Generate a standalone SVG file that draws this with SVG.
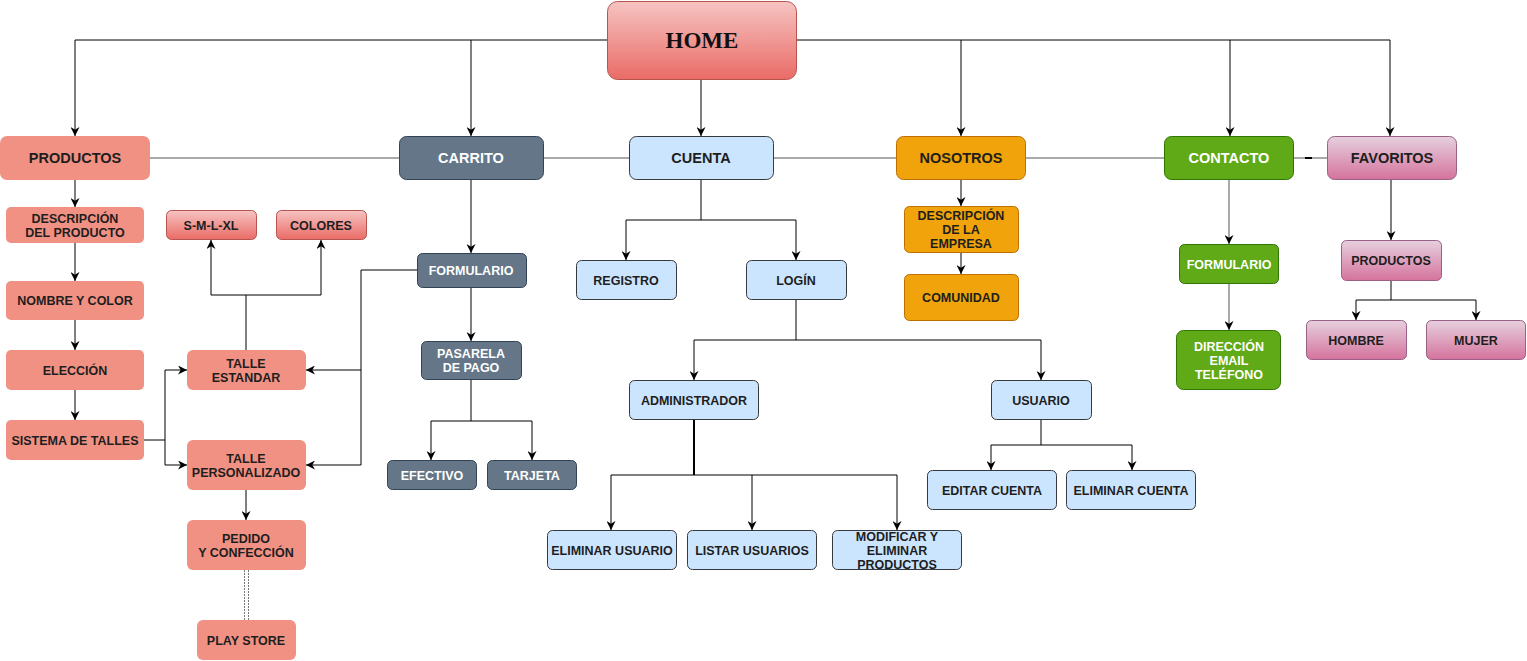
<svg xmlns="http://www.w3.org/2000/svg" width="1527" height="661" viewBox="0 0 1527 661">
<defs>
<style>
.t{font-family:"Liberation Sans",Arial,sans-serif;font-weight:bold;font-size:12.5px;text-anchor:middle;fill:#1e1e1e}
.b{font-size:14.5px}
.w{fill:#fff}
.c{stroke:#000;stroke-width:1;fill:none}
.g{stroke:#555;stroke-width:1;fill:none}
.sal{fill:#f19183;stroke:none}
.gry{fill:#647687;stroke:#314354}
.blu{fill:#cce5ff;stroke:#36393d}
.org{fill:#f0a30a;stroke:#bd7000}
.grn{fill:#60a917;stroke:#2d7600}
.pnk{fill:url(#gp);stroke:#996185}
.red{fill:url(#gr);stroke:#b85450}
</style>
<linearGradient id="gr" x1="0" y1="0" x2="0" y2="1"><stop offset="0" stop-color="#f6c4c2"/><stop offset="1" stop-color="#ea6b66"/></linearGradient>
<linearGradient id="gp" x1="0" y1="0" x2="0" y2="1"><stop offset="0" stop-color="#e6d0de"/><stop offset="1" stop-color="#d5739d"/></linearGradient>
<marker id="a" viewBox="0 0 10 10" refX="10" refY="5" markerWidth="9" markerHeight="9" markerUnits="userSpaceOnUse" orient="auto"><path d="M0,0 L10,5 L0,10 L3,5 z" fill="#000"/></marker>
</defs>
<rect width="1527" height="661" fill="#fff"/>
<g id="connectors">
<path class="c" d="M607,40 H75 V136" marker-end="url(#a)"/>
<path class="c" d="M471,40 V136" marker-end="url(#a)"/>
<path class="c" d="M797,40 H1390 V136" marker-end="url(#a)"/>
<path class="c" d="M961,40 V136" marker-end="url(#a)"/>
<path class="c" d="M1230,40 V136" marker-end="url(#a)"/>
<path class="c" d="M701,80 V136" marker-end="url(#a)"/>
<path class="g" d="M150,158 H399 M544,158 H629 M774,158 H896 M1026,158 H1164 M1294,158 H1327"/>
<path stroke="#000" stroke-width="2" d="M1305,158 H1312"/>
<path class="c" d="M75,180 V207" marker-end="url(#a)"/>
<path class="c" d="M75,243 V281" marker-end="url(#a)"/>
<path class="c" d="M75,320 V350" marker-end="url(#a)"/>
<path class="c" d="M75,390 V420" marker-end="url(#a)"/>
<path class="c" d="M144,440 H165 V370 H187" marker-end="url(#a)"/>
<path class="c" d="M165,440 V465 H187" marker-end="url(#a)"/>
<path class="c" d="M246,350 V295 H211 V240" marker-end="url(#a)"/>
<path class="c" d="M246,295 H321 V240" marker-end="url(#a)"/>
<path class="c" d="M417,270 H361 V370 H306" marker-end="url(#a)"/>
<path class="c" d="M361,370 V465 H306" marker-end="url(#a)"/>
<path class="c" d="M246,490 V520" marker-end="url(#a)"/>
<path stroke="#777" stroke-width="1" stroke-dasharray="2,1" fill="none" d="M244.5,570 V620 M248.5,570 V620"/>
<path class="c" d="M471,180 V253" marker-end="url(#a)"/>
<path class="c" d="M471,288 V341" marker-end="url(#a)"/>
<path class="c" d="M471,380 V421 H431 V460" marker-end="url(#a)"/>
<path class="c" d="M471,421 H532 V460" marker-end="url(#a)"/>
<path class="c" d="M701,180 V220 H626 V260" marker-end="url(#a)"/>
<path class="c" d="M701,220 H796 V260" marker-end="url(#a)"/>
<path class="c" d="M796,300 V340 H694 V380" marker-end="url(#a)"/>
<path class="c" d="M796,340 H1041 V380" marker-end="url(#a)"/>
<path stroke="#000" stroke-width="2" fill="none" d="M694,420 V475"/>
<path class="c" d="M694,475 H611 V530" marker-end="url(#a)"/>
<path class="c" d="M694,475 H752 V530" marker-end="url(#a)"/>
<path class="c" d="M752,475 H897 V530" marker-end="url(#a)"/>
<path class="c" d="M1041,420 V445 H991 V470" marker-end="url(#a)"/>
<path class="c" d="M1041,445 H1132 V470" marker-end="url(#a)"/>
<path class="c" d="M961,180 V206" marker-end="url(#a)"/>
<path class="c" d="M961,253 V274" marker-end="url(#a)"/>
<path class="g" d="M1229,180 V244" marker-end="url(#a)"/>
<path class="g" d="M1229,284 V330" marker-end="url(#a)"/>
<path class="c" d="M1391,180 V240" marker-end="url(#a)"/>
<path class="c" d="M1391,281 V300 H1356 V320" marker-end="url(#a)"/>
<path class="c" d="M1391,300 H1476 V320" marker-end="url(#a)"/>
</g>
<g id="home"><rect class="red" x="607.5" y="1.5" width="189" height="78" rx="10"/><text x="702" y="48" style="font-family:'Liberation Serif','Times New Roman',serif;font-weight:bold;font-size:23px;text-anchor:middle;fill:#111">HOME</text></g>
<g id="productos"><rect class="sal" x="0" y="136" width="150" height="44" rx="7"/><text class="t b" x="75" y="163">PRODUCTOS</text></g>
<g id="carrito"><rect class="gry" x="399.5" y="136.5" width="144" height="43" rx="7"/><text class="t b w" x="471" y="163">CARRITO</text></g>
<g id="cuenta"><rect class="blu" x="629.5" y="136.5" width="144" height="43" rx="7"/><text class="t b" x="701" y="163">CUENTA</text></g>
<g id="nosotros"><rect class="org" x="896.5" y="136.5" width="129" height="43" rx="7"/><text class="t b" x="961" y="163">NOSOTROS</text></g>
<g id="contacto"><rect class="grn" x="1164.5" y="136.5" width="129" height="43" rx="7"/><text class="t b w" x="1229" y="163">CONTACTO</text></g>
<g id="favoritos"><rect class="pnk" x="1327.5" y="136.5" width="129" height="43" rx="7"/><text class="t b" x="1392" y="163">FAVORITOS</text></g>
<g id="descripcion-producto"><rect class="sal" x="6" y="207" width="138" height="36" rx="5"/><text class="t" x="75" y="222.5">DESCRIPCIÓN</text><text class="t" x="75" y="236.5">DEL PRODUCTO</text></g>
<g id="nombre-color"><rect class="sal" x="6" y="281" width="138" height="39" rx="5"/><text class="t" x="75" y="304.5">NOMBRE Y COLOR</text></g>
<g id="eleccion"><rect class="sal" x="6" y="350" width="138" height="40" rx="5"/><text class="t" x="75" y="374.5">ELECCIÓN</text></g>
<g id="sistema-talles"><rect class="sal" x="6" y="420" width="138" height="40" rx="5"/><text class="t" x="75" y="444.5">SISTEMA DE TALLES</text></g>
<g id="sml"><rect class="red" x="166.5" y="210.5" width="90" height="29" rx="5"/><text class="t" x="211" y="229.5">S-M-L-XL</text></g>
<g id="colores"><rect class="red" x="276.5" y="210.5" width="90" height="29" rx="5"/><text class="t" x="321" y="229.5">COLORES</text></g>
<g id="talle-estandar"><rect class="sal" x="187" y="350" width="119" height="40" rx="6"/><text class="t" x="246" y="368">TALLE</text><text class="t" x="246" y="382">ESTANDAR</text></g>
<g id="talle-personalizado"><rect class="sal" x="187" y="440" width="119" height="50" rx="6"/><text class="t" x="246" y="463">TALLE</text><text class="t" x="246" y="477">PERSONALIZADO</text></g>
<g id="pedido"><rect class="sal" x="187" y="520" width="119" height="50" rx="6"/><text class="t" x="246" y="543">PEDIDO</text><text class="t" x="246" y="557">Y CONFECCIÓN</text></g>
<g id="play-store"><rect class="sal" x="197" y="620" width="99" height="40" rx="6"/><text class="t" x="246" y="644.5">PLAY STORE</text></g>
<g id="formulario-carrito"><rect class="gry" x="417.5" y="253.5" width="109" height="34" rx="5"/><text class="t w" x="471" y="274.5">FORMULARIO</text></g>
<g id="pasarela"><rect class="gry" x="421.5" y="341.5" width="100" height="38" rx="5"/><text class="t w" x="471" y="357.5">PASARELA</text><text class="t w" x="471" y="371.5">DE PAGO</text></g>
<g id="efectivo"><rect class="gry" x="387.5" y="460.5" width="89" height="29" rx="5"/><text class="t w" x="432" y="479.5">EFECTIVO</text></g>
<g id="tarjeta"><rect class="gry" x="487.5" y="460.5" width="89" height="29" rx="5"/><text class="t w" x="532" y="479.5">TARJETA</text></g>
<g id="registro"><rect class="blu" x="576.5" y="260.5" width="100" height="39" rx="5"/><text class="t" x="626" y="284.5">REGISTRO</text></g>
<g id="login"><rect class="blu" x="746.5" y="260.5" width="100" height="39" rx="5"/><text class="t" x="796" y="284.5">LOGÍN</text></g>
<g id="administrador"><rect class="blu" x="629.5" y="380.5" width="129" height="39" rx="5"/><text class="t" x="694" y="404.5">ADMINISTRADOR</text></g>
<g id="usuario"><rect class="blu" x="991.5" y="380.5" width="100" height="39" rx="5"/><text class="t" x="1041" y="404.5">USUARIO</text></g>
<g id="eliminar-usuario"><rect class="blu" x="547.5" y="530.5" width="129" height="39" rx="5"/><text class="t" x="612" y="554.5">ELIMINAR USUARIO</text></g>
<g id="listar-usuarios"><rect class="blu" x="687.5" y="530.5" width="129" height="39" rx="5"/><text class="t" x="752" y="554.5">LISTAR USUARIOS</text></g>
<g id="modificar"><rect class="blu" x="832.5" y="530.5" width="129" height="39" rx="5"/><text class="t" x="897" y="541">MODIFICAR Y</text><text class="t" x="897" y="555">ELIMINAR</text><text class="t" x="897" y="569">PRODUCTOS</text></g>
<g id="editar-cuenta"><rect class="blu" x="927.5" y="470.5" width="129" height="39" rx="5"/><text class="t" x="992" y="494.5">EDITAR CUENTA</text></g>
<g id="eliminar-cuenta"><rect class="blu" x="1066.5" y="470.5" width="129" height="39" rx="5"/><text class="t" x="1131" y="494.5">ELIMINAR CUENTA</text></g>
<g id="descripcion-empresa"><rect class="org" x="904.5" y="206.5" width="114" height="46" rx="5"/><text class="t" x="961" y="220">DESCRIPCIÓN</text><text class="t" x="961" y="234">DE LA</text><text class="t" x="961" y="248">EMPRESA</text></g>
<g id="comunidad"><rect class="org" x="904.5" y="274.5" width="114" height="46" rx="5"/><text class="t" x="961" y="302">COMUNIDAD</text></g>
<g id="formulario-contacto"><rect class="grn" x="1179.5" y="244.5" width="99" height="39" rx="5"/><text class="t w" x="1229" y="268.5">FORMULARIO</text></g>
<g id="direccion"><rect class="grn" x="1176.5" y="330.5" width="104" height="59" rx="7"/><text class="t w" x="1229" y="351">DIRECCIÓN</text><text class="t w" x="1229" y="365">EMAIL</text><text class="t w" x="1229" y="379">TELÉFONO</text></g>
<g id="productos-fav"><rect class="pnk" x="1341.5" y="240.5" width="100" height="40" rx="5"/><text class="t" x="1391" y="264.5">PRODUCTOS</text></g>
<g id="hombre"><rect class="pnk" x="1306.5" y="320.5" width="100" height="39" rx="5"/><text class="t" x="1356" y="344.5">HOMBRE</text></g>
<g id="mujer"><rect class="pnk" x="1426.5" y="320.5" width="99" height="39" rx="5"/><text class="t" x="1476" y="344.5">MUJER</text></g>
</svg>
